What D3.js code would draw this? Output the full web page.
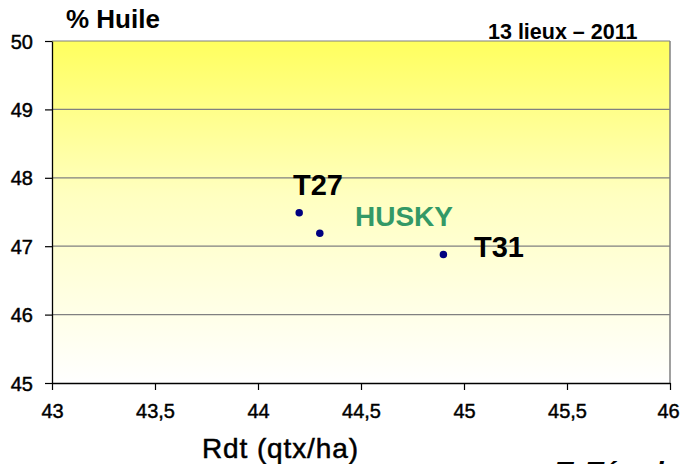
<!DOCTYPE html>
<html><head><meta charset="utf-8">
<script src="https://cdn.jsdelivr.net/npm/d3@7"></script>
<style>
html,body{margin:0;padding:0;background:#fff;}
svg text{font-family:"Liberation Sans",Arial,sans-serif;}
</style></head>
<body><svg id="c" width="680" height="464"></svg>
<script>
const names = ["T27", "HUSKY", "T31"];
const rdt = [44.2, 44.3, 44.9];
const huile = [47.49, 47.19, 46.88];
const xTicks = [43, 43.5, 44, 44.5, 45, 45.5, 46];
const yTicks = [45, 46, 47, 48, 49, 50];
const labelColors = ["#000000", "#339966", "#000000"];

const svg = d3.select("#c");
const x = d3.scaleLinear().domain([43, 46]).range([52, 670]);
const y = d3.scaleLinear().domain([45, 50]).range([383, 41]);

const defs = svg.append("defs");
const g = defs.append("linearGradient").attr("id","bg").attr("x1",0).attr("y1",0).attr("x2",0).attr("y2",1);
g.append("stop").attr("offset","0%").attr("stop-color","#ffff5e");
g.append("stop").attr("offset","45%").attr("stop-color","#ffffc0");
g.append("stop").attr("offset","100%").attr("stop-color","#ffffff");

svg.append("rect").attr("x",x(43)).attr("y",y(50)).attr("width",x(46)-x(43)).attr("height",y(45)-y(50)).attr("fill","url(#bg)");

// gridlines
svg.append("g").selectAll("line").data(yTicks.filter(d=>d>45)).join("line")
  .attr("x1",x(43)).attr("x2",x(46)).attr("y1",d=>y(d)).attr("y2",d=>y(d))
  .attr("stroke","#808080").attr("stroke-width",1.2);
// right border
svg.append("line").attr("x1",x(46)).attr("x2",x(46)).attr("y1",y(50)).attr("y2",y(45)).attr("stroke","#808080").attr("stroke-width",1.5);

const fmt = d => String(d).replace(".", ",");
const xa = svg.append("g").attr("transform",`translate(0,${y(45)})`)
  .call(d3.axisBottom(x).tickValues(xTicks).tickFormat(fmt).tickSize(7).tickSizeOuter(0));
const ya = svg.append("g").attr("transform",`translate(${x(43)},0)`)
  .call(d3.axisLeft(y).tickValues(yTicks).tickFormat(d=>d).tickSize(7).tickSizeOuter(0));
[xa,ya].forEach(a=>{
  a.select(".domain").attr("stroke","#000").attr("stroke-width",1.3);
  a.selectAll(".tick line").attr("stroke","#000").attr("stroke-width",1.2);
  a.selectAll("text").attr("fill","#000").attr("stroke","#000").attr("stroke-width",0.45)
    .style("font-size","20px").style("font-family","'Liberation Sans',Arial,sans-serif");
});
xa.selectAll("text").attr("dy",null).attr("y",35);
xa.selectAll("text").filter(d=>d===46).attr("x",-2);
ya.selectAll("text").attr("x",-19).attr("dy","0.35em");

// points
svg.append("g").selectAll("path").data(rdt).join("path")
  .attr("transform",(d,i)=>`translate(${x(d)},${y(huile[i])})`)
  .attr("d", d3.symbol(d3.symbolCircle, 44)).attr("fill","#000080");

// labels
const lblPos = [[293,195],[355,226],[474,257]];
svg.append("g").selectAll("text").data(names).join("text")
  .attr("x",(d,i)=>lblPos[i][0]).attr("y",(d,i)=>lblPos[i][1])
  .attr("fill",(d,i)=>labelColors[i]).attr("font-weight","bold")
  .style("font-size",(d,i)=>i===1?"28px":"29px").text(d=>d);

svg.append("text").attr("x",66).attr("y",28).attr("font-weight","bold").style("font-size","26px").text("% Huile");
svg.append("text").attr("x",488).attr("y",39).attr("font-weight","bold").style("font-size","21.5px").text("13 lieux – 2011");
svg.append("text").attr("x",202).attr("y",458).style("font-size","28px").attr("stroke","#000").attr("stroke-width",0.5)
  .attr("textLength",156).text("Rdt (qtx/ha)");
svg.append("text").attr("x",555).attr("y",481).attr("font-weight","bold").attr("font-style","italic").style("font-size","28px").text("T. Térral");
</script></body></html>
